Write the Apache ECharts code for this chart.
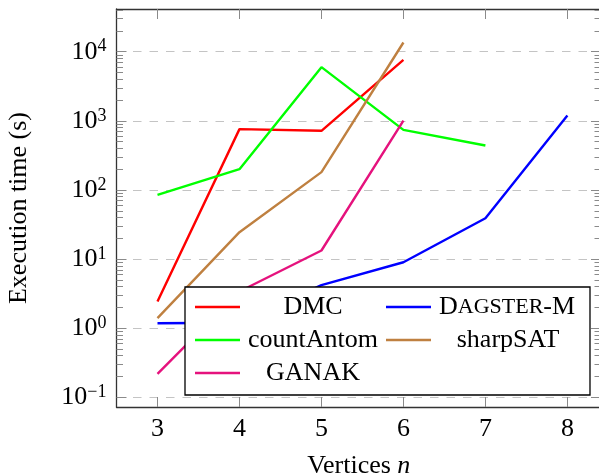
<!DOCTYPE html>
<html>
<head>
<meta charset="utf-8">
<script src="https://cdn.jsdelivr.net/npm/echarts@6/dist/echarts.min.js"></script>
<style>
  html, body { margin: 0; padding: 0; background: #fff; }
  #chart { width: 599px; height: 476px; }
</style>
</head>
<body>
<div id="chart"></div>
<script>
// vertices n on the x axis
var vertices = [3, 4, 5, 6, 7, 8];
// execution times (s), one entry per vertex count starting at n = 3
var dmcTimes = [2.43, 759, 717, 7640];
var dagsterTimes = [1.18, 1.2, 4.2, 9.0, 39, 1190];
var countAntomTimes = [85, 200, 5980, 741, 440];
var sharpSatTimes = [1.40, 24.5, 181, 13600];
var ganakTimes = [0.218, 3.4, 13.3, 1010];

// legend columns (pgfplots fills two columns row by row)
var legendLeftColumn = ['DMC', 'countAntom', 'GANAK'];
var legendRightColumn = ['DAGSTER-M', 'sharpSAT'];

var majorTicks = [0.1, 1, 10, 100, 1000, 10000];
var minorTicks = [];
for (var d = 0.1; d < 20000; d *= 10) {
    for (var k = 2; k <= 9; k++) minorTicks.push(+(k * d).toPrecision(3));
}

var serif = "'Liberation Serif', 'DejaVu Serif', serif";

function pairs(ys) {
    var out = [];
    for (var i = 0; i < ys.length; i++) out.push([vertices[i], ys[i]]);
    return out;
}

function lineSeries(name, color, ys) {
    return {
        name: name,
        type: 'line',
        data: pairs(ys),
        symbol: 'none',
        xAxisIndex: 0,
        yAxisIndex: 0,
        lineStyle: { color: color, width: 2.4 },
        itemStyle: { color: color }
    };
}

var yMin = 0.0724, yMax = 41500;
var xMin = 2.5, xMax = 8.41;

function logAxis(position, tickVals, len, showLine, showLabel, showSplit) {
    return {
        type: 'log',
        position: position,
        min: yMin,
        max: yMax,
        axisLine: { show: showLine, lineStyle: { color: '#333', width: 1.3 } },
        axisTick: { show: true, inside: true, length: len, customValues: tickVals,
                    lineStyle: { color: '#8a8a8a', width: 1 } },
        minorTick: { show: false },
        axisLabel: {
            show: showLabel,
            customValues: majorTicks,
            margin: 10,
            formatter: function (v) {
                var e = Math.round(Math.log10(v));
                return '{b|10}{s|' + (e < 0 ? '\u2212' + (-e) : e) + '}';
            },
            rich: {
                b: { fontFamily: serif, fontSize: 26, color: '#000', lineHeight: 28 },
                s: { fontFamily: serif, fontSize: 18, color: '#000', lineHeight: 18, verticalAlign: 'top' }
            }
        },
        splitLine: { show: showSplit, lineStyle: { color: '#c4c4c4', width: 1.2, type: [8.5, 8] } }
    };
}

var legendText = {
    fontFamily: serif,
    fontSize: 26,
    color: '#000',
    rich: {
        w: { fontFamily: serif, fontSize: 26, width: 136, align: 'center', color: '#000' },
        p: { width: 3 },
        p2: { width: 4 },
        c: { fontFamily: serif, fontSize: 26, color: '#000' },
        sc: { fontFamily: serif, fontSize: 22, color: '#000' }
    }
};

function legendLabel(name) {
    if (name === 'DAGSTER-M') return '{p|}{c|D}{sc|AGSTER}{c|-M}';
    if (name === 'sharpSAT') return '{p2|}{w|' + name + '}';
    return '{w|' + name + '}';
}

var chart = echarts.init(document.getElementById('chart'));
chart.setOption({
    animation: false,
    backgroundColor: '#fff',
    grid: { left: 116.5, right: -2, top: 9, bottom: 69, containLabel: false, outerBoundsMode: 'none' },
    legend: [{
        // left column; its frame is padded out to enclose the right column too
        data: legendLeftColumn,
        orient: 'vertical',
        left: 185,
        top: 287,
        padding: [7, 212, 9, 10],
        icon: 'rect',
        itemWidth: 45,
        itemHeight: 2.4,
        itemGap: 7,
        backgroundColor: '#fff',
        borderColor: '#000',
        borderWidth: 1.3,
        borderRadius: 0,
        formatter: legendLabel,
        textStyle: legendText
    }, {
        data: legendRightColumn,
        orient: 'vertical',
        left: 386,
        top: 294,
        padding: 0,
        icon: 'rect',
        itemWidth: 45,
        itemHeight: 2.4,
        itemGap: 7,
        formatter: legendLabel,
        textStyle: legendText
    }],
    xAxis: [{
        type: 'value',
        position: 'bottom',
        min: xMin,
        max: xMax,
        name: '{r|Vertices }{i|n}',
        nameLocation: 'middle',
        nameGap: 46,
        nameTextStyle: {
            rich: {
                r: { fontFamily: serif, fontSize: 26, color: '#000' },
                i: { fontFamily: serif, fontSize: 26, fontStyle: 'italic', color: '#000' }
            }
        },
        axisLine: { show: true, lineStyle: { color: '#333', width: 1.3 } },
        axisTick: { show: true, inside: true, length: 10, customValues: vertices,
                    lineStyle: { color: '#8a8a8a', width: 1 } },
        axisLabel: { customValues: vertices, margin: 9, fontFamily: serif, fontSize: 26, color: '#000' },
        splitLine: { show: false }
    }, {
        type: 'value',
        position: 'top',
        min: xMin,
        max: xMax,
        axisLine: { show: true, lineStyle: { color: '#333', width: 1.3 } },
        axisTick: { show: true, inside: true, length: 10, customValues: vertices,
                    lineStyle: { color: '#8a8a8a', width: 1 } },
        axisLabel: { show: false },
        splitLine: { show: false }
    }],
    yAxis: [
        Object.assign(logAxis('left', majorTicks, 10, true, true, true), {
            name: 'Execution time (s)',
            nameLocation: 'middle',
            nameGap: 84,
            nameRotate: 90,
            nameTextStyle: { fontFamily: serif, fontSize: 26, color: '#000' }
        }),
        logAxis('left', minorTicks, 6.5, false, false, false),
        logAxis('right', majorTicks, 10, true, false, false),
        logAxis('right', minorTicks, 6.5, false, false, false)
    ],
    series: [
        lineSeries('DMC', '#ff0000', dmcTimes),
        lineSeries('DAGSTER-M', '#0000ff', dagsterTimes),
        lineSeries('countAntom', '#00ff00', countAntomTimes),
        lineSeries('sharpSAT', '#bf8040', sharpSatTimes),
        lineSeries('GANAK', '#e5127d', ganakTimes)
    ]
});
</script>
</body>
</html>
